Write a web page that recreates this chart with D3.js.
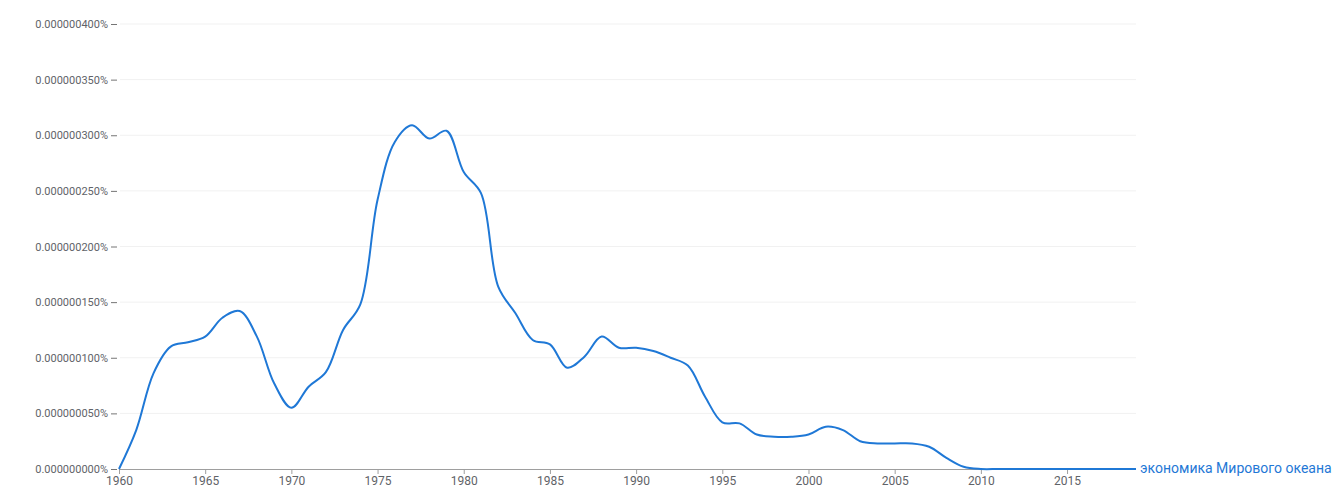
<!DOCTYPE html>
<html>
<head>
<meta charset="utf-8">
<script src="https://cdn.jsdelivr.net/npm/d3@7"></script>
<style>
  body { margin: 0; background: #fff; }
  text { font-family: Roboto, "Open Sans", sans-serif; }
</style>
</head>
<body>
<div id="chart"></div>
<script>
var svgWidth = 1332;
var svgHeight = 491;

// years and values (in percent)
var years = d3.range(1960, 2020);
var values = [
  0, 0.000000035, 0.000000086, 0.000000110, 0.000000114, 0.000000119, 0.000000136, 0.000000142, 0.000000119, 0.000000077,
  0.000000055, 0.000000074, 0.000000087, 0.000000125, 0.000000148, 0.000000242, 0.000000294, 0.000000309, 0.000000297, 0.000000304,
  0.000000267, 0.000000248, 0.000000164, 0.000000140, 0.000000116, 0.000000112, 0.000000091, 0.000000101, 0.000000119, 0.000000109,
  0.000000109, 0.000000106, 0.000000100, 0.000000093, 0.000000065, 0.000000042, 0.000000041, 0.000000031, 0.000000029, 0.000000029,
  0.000000031, 0.000000038, 0.000000035, 0.000000025, 0.000000023, 0.000000023, 0.000000023, 0.000000020, 0.000000010, 0.000000002,
  0, 0, 0, 0, 0, 0, 0, 0, 0, 0
];
var seriesName = "экономика Мирового океана";
var yTicks = [0, 0.00000005, 0.0000001, 0.00000015, 0.0000002, 0.00000025, 0.0000003, 0.00000035, 0.0000004];
var xTicks = [1960, 1965, 1970, 1975, 1980, 1985, 1990, 1995, 2000, 2005, 2010, 2015];

var data = years.map(function(y, i) { return {year: y, value: values[i]}; });

var lineColor = "#1f78d6";

var svg = d3.select("#chart")
  .append("svg")
  .attr("width", svgWidth)
  .attr("height", svgHeight);

var xScale = d3.scaleLinear()
  .domain([1960, 2019])
  .range([119, 1136]);

var yScale = d3.scaleLinear()
  .domain([0, 0.0000004])
  .range([469, 24]);

// grid lines
svg.append("g")
  .selectAll("line")
  .data(yTicks.slice(1))
  .enter()
  .append("line")
  .attr("x1", 120)
  .attr("x2", 1136)
  .attr("y1", d => yScale(d))
  .attr("y2", d => yScale(d))
  .attr("stroke", "#f1f1f1")
  .attr("stroke-width", 1);

// y axis
var leftAxis = d3.axisLeft(yScale)
  .tickValues(yTicks)
  .tickSize(6)
  .tickPadding(3)
  .tickFormat(d => d3.format(".9f")(d) + "%");

var yAxis = svg.append("g")
  .attr("transform", "translate(117, 0)")
  .call(leftAxis);
yAxis.select(".domain").remove();
yAxis.selectAll(".tick line").attr("stroke", "#757575");
yAxis.selectAll("text")
  .attr("fill", "#5f6368")
  .attr("font-size", "11px");

// x axis
var bottomAxis = d3.axisBottom(xScale)
  .tickValues(xTicks)
  .tickSize(5)
  .tickPadding(2)
  .tickFormat(d3.format("d"));

var xAxis = svg.append("g")
  .attr("transform", "translate(0, 469)")
  .call(bottomAxis);
xAxis.select(".domain")
  .attr("stroke", "#9e9e9e")
  .attr("d", "M119,0.5H1136");
xAxis.selectAll(".tick line").attr("stroke", "#9e9e9e");
xAxis.selectAll("text")
  .attr("fill", "#5f6368")
  .attr("font-size", "12px");

// series line
var line = d3.line()
  .x(d => xScale(d.year))
  .y(d => yScale(d.value))
  .curve(d3.curveCatmullRom.alpha(0.5));

svg.append("path")
  .datum(data)
  .attr("fill", "none")
  .attr("stroke", lineColor)
  .attr("stroke-width", 2)
  .attr("d", line);

// series label
var last = data[data.length - 1];
svg.append("text")
  .attr("x", xScale(last.year) + 4)
  .attr("y", yScale(last.value) + 4)
  .attr("fill", lineColor)
  .attr("font-size", "14px")
  .text(seriesName);
</script>
</body>
</html>
